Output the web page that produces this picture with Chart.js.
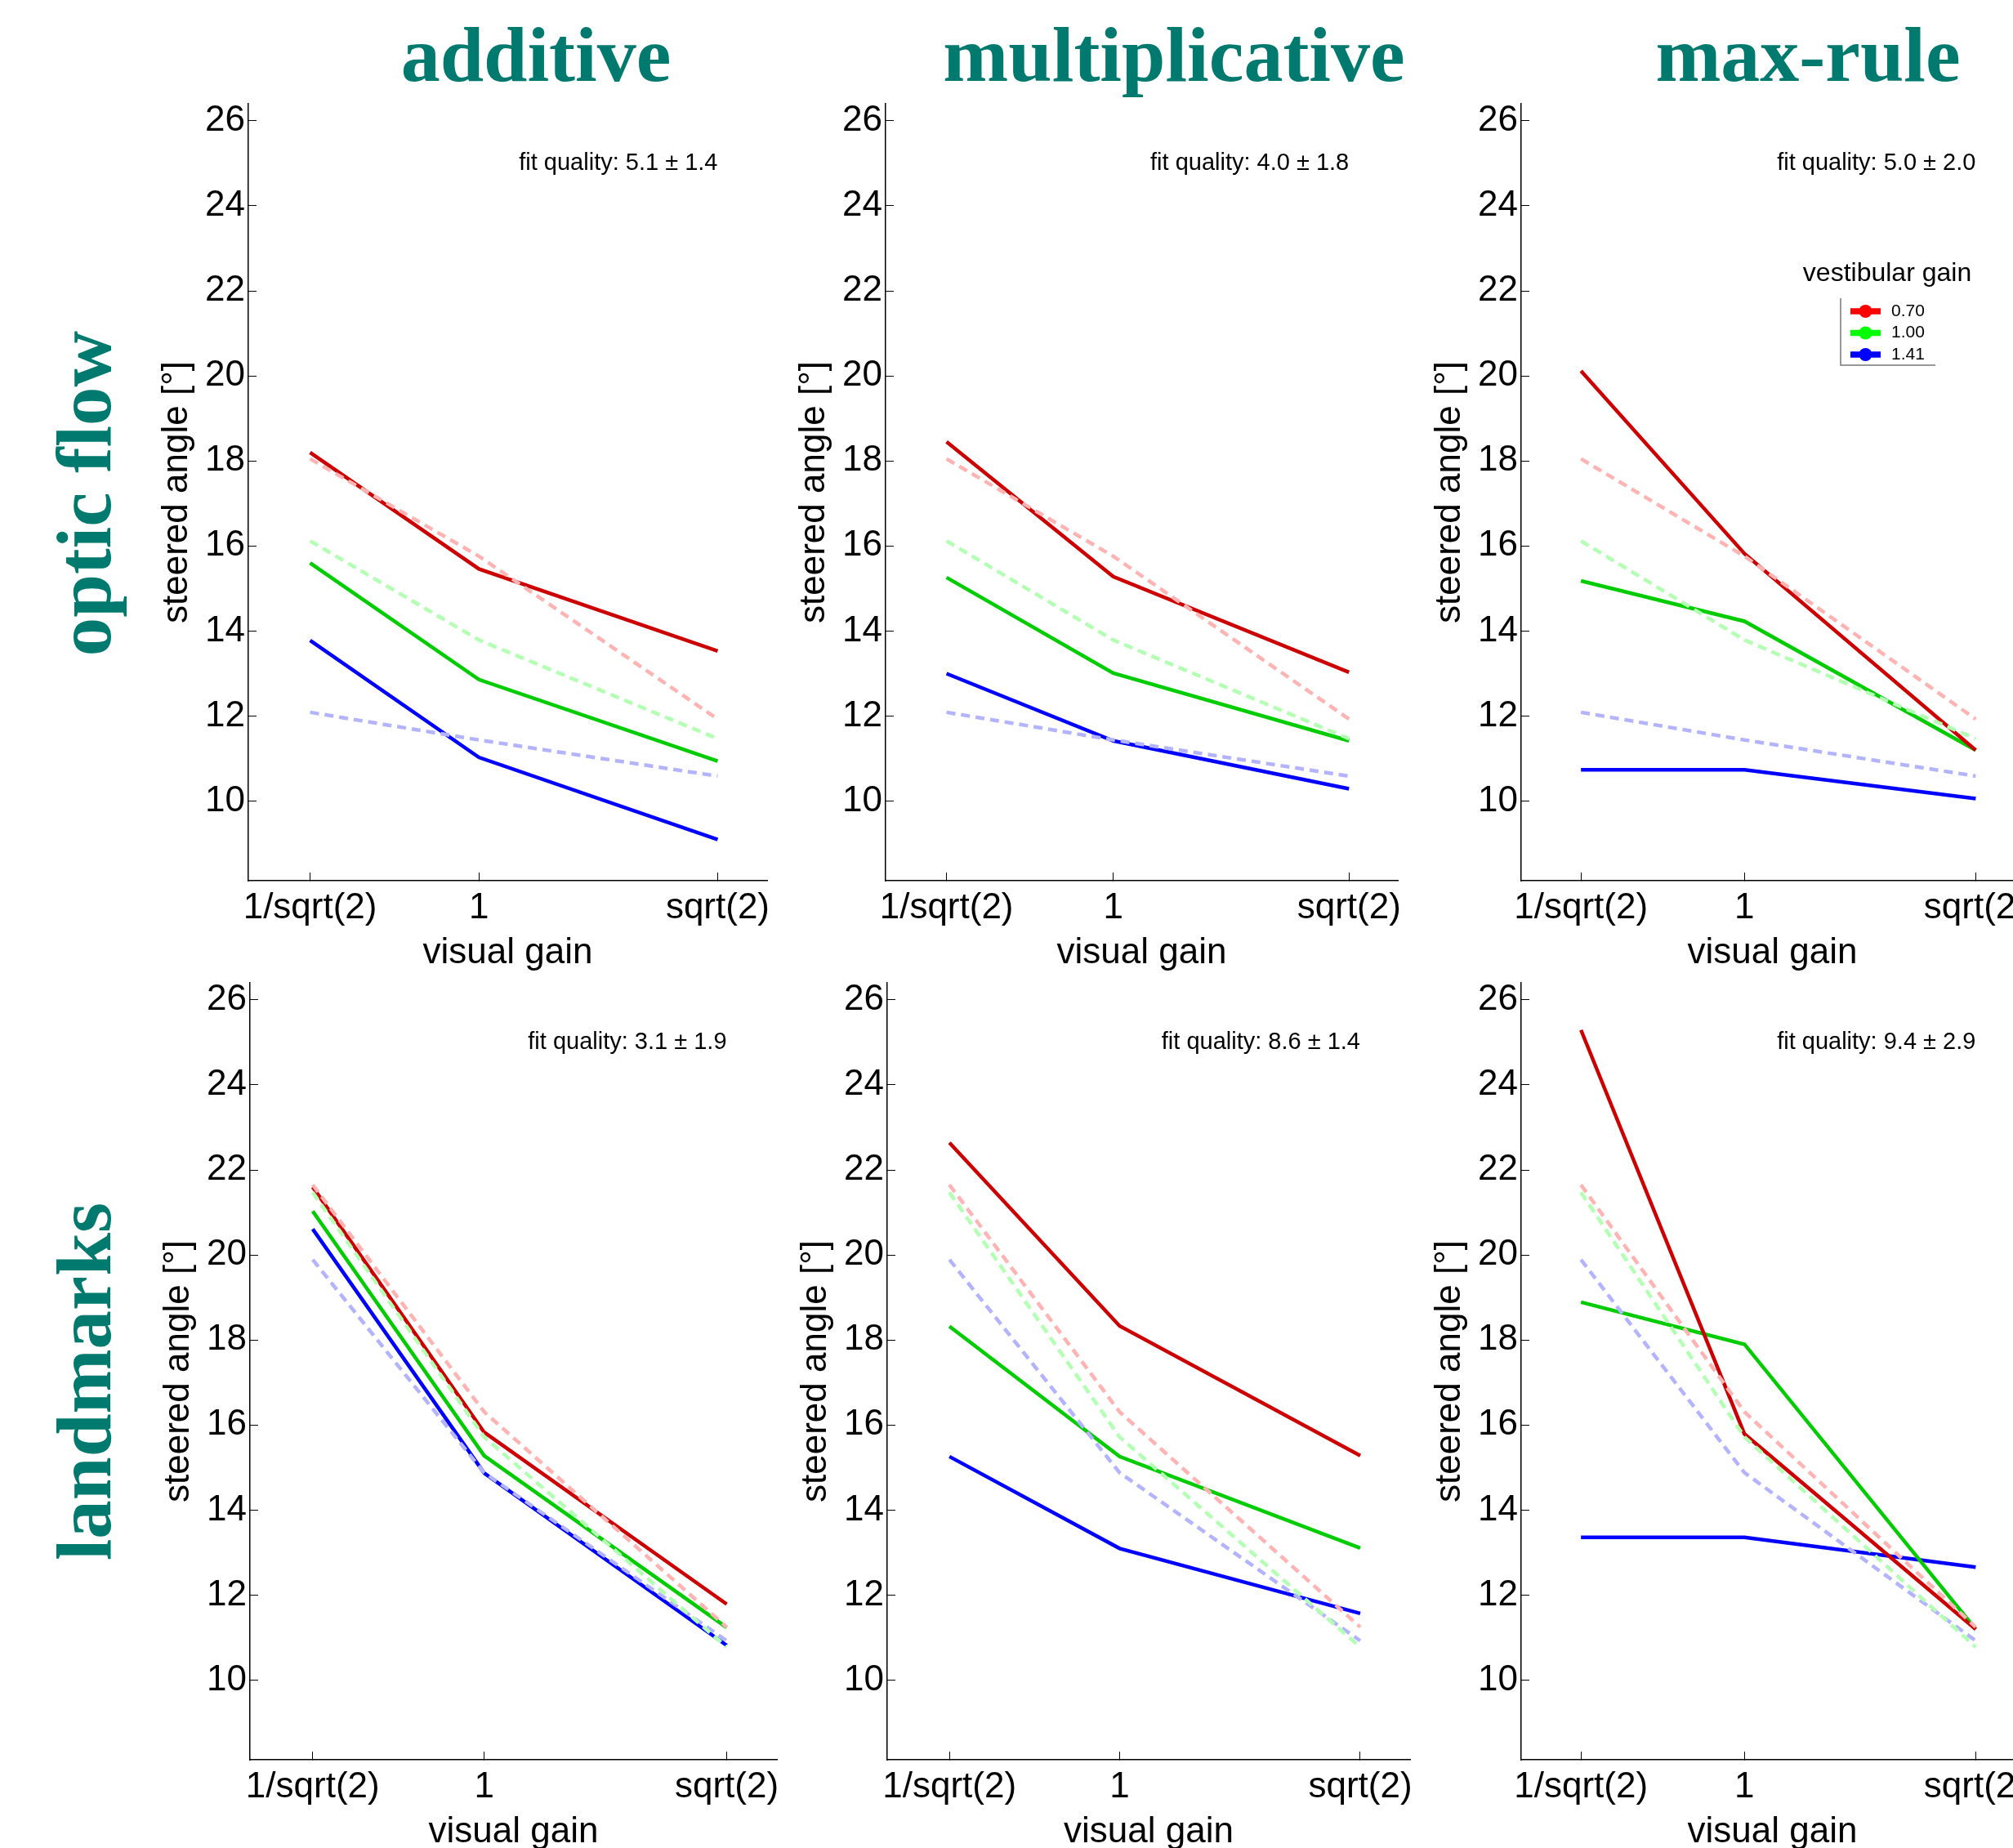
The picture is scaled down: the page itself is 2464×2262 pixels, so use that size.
<!DOCTYPE html>
<html>
<head>
<meta charset="utf-8">
<title>steered angle vs visual gain</title>
<script src="https://cdn.jsdelivr.net/npm/chart.js@4.4.1/dist/chart.umd.min.js"></script>
<style>
  html, body { margin: 0; padding: 0; background: #fff; }
  body { width: 2464px; height: 2262px; position: relative; overflow: hidden; }
  canvas { position: absolute; }
  .col-title, .row-title {
    position: absolute;
    font-family: "Liberation Serif", "Times New Roman", serif;
    font-weight: bold;
    color: #007a6e;
    white-space: nowrap;
    text-align: center;
  }
  .col-title { width: 800px; font-size: 96px; line-height: 100px; top: 17px; }
  .row-title { width: 600px; height: 100px; font-size: 95px; line-height: 100px; left: -197px; transform: rotate(-90deg); }
</style>
</head>
<body>
<div class="col-title" style="left:256px">additive</div>
<div class="col-title" style="left:1037px">multiplicative</div>
<div class="col-title" style="left:1813px">max-rule</div>
<div class="row-title" style="top:554px">optic flow</div>
<div class="row-title" style="top:1641px">landmarks</div>

<script>
const FONT = '"Liberation Sans", Arial, Helvetica, sans-serif';

// x axis: visual gain
const gains = [0.7071, 1, 1.4142];
const gainLabels = ['1/sqrt(2)', '1', 'sqrt(2)'];
const yTicks = [10, 12, 14, 16, 18, 20, 22, 24, 26];
const vestibularGains = ['0.70', '1.00', '1.41'];

// measured steered angle (dashed), rows = vestibular gain 0.70 / 1.00 / 1.41
const dataOpticFlow = [[18.05, 15.76, 11.93], [16.12, 13.79, 11.47], [12.09, 11.44, 10.59]];
const dataLandmarks = [[21.65, 16.31, 11.25], [21.47, 15.72, 10.78], [19.89, 14.88, 10.93]];

// model predictions (solid)
const fitAdditiveOptic = [[18.20, 15.46, 13.53], [15.60, 12.86, 10.94], [13.78, 11.03, 9.10]];
const fitMultOptic = [[18.45, 15.28, 13.03], [15.26, 13.01, 11.42], [13.00, 11.42, 10.29]];
const fitMaxOptic = [[20.12, 15.82, 11.20], [15.18, 14.23, 11.20], [10.74, 10.74, 10.06]];
const fitAdditiveLand = [[21.60, 15.83, 11.79], [21.03, 15.28, 11.24], [20.61, 14.87, 10.82]];
const fitMultLand = [[22.64, 18.33, 15.28], [18.32, 15.26, 13.11], [15.26, 13.10, 11.57]];
const fitMaxLand = [[25.29, 15.79, 11.20], [18.89, 17.90, 11.20], [13.36, 13.36, 12.66]];

const fitQuality = [
  'fit quality: 5.1 ± 1.4', 'fit quality: 4.0 ± 1.8', 'fit quality: 5.0 ± 2.0',
  'fit quality: 3.1 ± 1.9', 'fit quality: 8.6 ± 1.4', 'fit quality: 9.4 ± 2.9',
];

const solidColors = ['#cc0000', '#00cc00', '#0000ff'];
const dashColors = ['#ffb3b3', '#b3ffb3', '#b3b3ff'];
const legendColors = ['#ff0000', '#00ff00', '#0000ff'];

// plot areas in page pixels
const panels = [
  { data: dataOpticFlow, fit: fitAdditiveOptic, left: 304, top: 127, w: 635, h: 951 },
  { data: dataOpticFlow, fit: fitMultOptic, left: 1084, top: 127, w: 627, h: 951 },
  { data: dataOpticFlow, fit: fitMaxOptic, left: 1862, top: 127, w: 615, h: 951, legend: true },
  { data: dataLandmarks, fit: fitAdditiveLand, left: 306, top: 1203, w: 645, h: 951 },
  { data: dataLandmarks, fit: fitMultLand, left: 1086, top: 1203, w: 640, h: 951 },
  { data: dataLandmarks, fit: fitMaxLand, left: 1862, top: 1203, w: 615, h: 951 },
];

const Y_AXIS_W = 260;
const X_AXIS_H = 130;
const PAD_TOP = 60;
const PAD_RIGHT = 40;

const fitTextPlugin = {
  id: 'fitText',
  afterDatasetsDraw(chart, args, opts) {
    const { ctx, scales: { x, y } } = chart;
    ctx.save();
    ctx.font = `29px ${FONT}`;
    ctx.fillStyle = '#000';
    ctx.textAlign = 'right';
    ctx.textBaseline = 'middle';
    ctx.fillText(opts.text, x.getPixelForValue(gains[2]), y.getPixelForValue(25));
    ctx.restore();
  },
};

const legendPlugin = {
  id: 'vestibularLegend',
  afterDraw(chart, args, opts) {
    if (!opts.show) return;
    const { ctx, chartArea: { left, top } } = chart;
    ctx.save();
    ctx.fillStyle = '#000';
    ctx.font = `32px ${FONT}`;
    ctx.textAlign = 'center';
    ctx.textBaseline = 'middle';
    ctx.fillText('vestibular gain', left + 448, top + 208);

    ctx.strokeStyle = '#777';
    ctx.lineWidth = 1.5;
    ctx.beginPath();
    ctx.moveTo(left + 391, top + 238);
    ctx.lineTo(left + 391, top + 320);
    ctx.lineTo(left + 507, top + 320);
    ctx.stroke();

    vestibularGains.forEach((label, i) => {
      const yy = top + 254 + i * 26.5;
      ctx.strokeStyle = legendColors[i];
      ctx.lineWidth = 7.5;
      ctx.beginPath();
      ctx.moveTo(left + 403, yy);
      ctx.lineTo(left + 440, yy);
      ctx.stroke();
      ctx.fillStyle = legendColors[i];
      ctx.beginPath();
      ctx.arc(left + 421.5, yy, 8, 0, Math.PI * 2);
      ctx.fill();
      ctx.fillStyle = '#000';
      ctx.font = `21px ${FONT}`;
      ctx.textAlign = 'left';
      ctx.fillText(label, left + 453, yy);
    });
    ctx.restore();
  },
};

Chart.defaults.font.family = FONT;
Chart.defaults.color = '#000';

function makeDatasets(panel) {
  const measured = panel.data.map((row, i) => ({
    data: row.map((v, j) => ({ x: gains[j], y: v })),
    borderColor: dashColors[i],
    borderWidth: 4.5,
    borderDash: [11, 7],
    pointRadius: 0,
    fill: false,
  }));
  const model = panel.fit.map((row, i) => ({
    data: row.map((v, j) => ({ x: gains[j], y: v })),
    borderColor: solidColors[i],
    borderWidth: 4.5,
    pointRadius: 0,
    fill: false,
  }));
  return [...measured, ...model];
}

panels.forEach((panel, idx) => {
  const canvas = document.createElement('canvas');
  const cw = Y_AXIS_W + panel.w + PAD_RIGHT;
  const ch = PAD_TOP + panel.h + X_AXIS_H;
  canvas.width = cw;
  canvas.height = ch;
  canvas.style.left = `${panel.left - Y_AXIS_W}px`;
  canvas.style.top = `${panel.top - PAD_TOP}px`;
  canvas.style.width = `${cw}px`;
  canvas.style.height = `${ch}px`;
  document.body.appendChild(canvas);

  const tickFont = { family: FONT, size: 44 };

  new Chart(canvas, {
    type: 'line',
    data: { datasets: makeDatasets(panel) },
    options: {
      responsive: false,
      animation: false,
      devicePixelRatio: 1,
      layout: { padding: { top: PAD_TOP, right: PAD_RIGHT, left: 0, bottom: 0 } },
      plugins: {
        legend: { display: false },
        tooltip: { enabled: false },
        fitText: { text: fitQuality[idx] },
        vestibularLegend: { show: !!panel.legend },
      },
      scales: {
        x: {
          type: 'linear',
          min: 0.6,
          max: 1.5,
          afterBuildTicks: scale => { scale.ticks = gains.map(v => ({ value: v })); },
          afterFit: scale => { scale.height = X_AXIS_H; },
          ticks: {
            callback: (value, index) => gainLabels[index],
            font: tickFont,
            color: '#000',
            padding: 17,
            maxRotation: 0,
            autoSkip: false,
          },
          grid: { drawOnChartArea: false, tickLength: -10, color: '#000', lineWidth: 1 },
          border: { color: '#000', width: 1.5 },
          title: {
            display: true,
            text: 'visual gain',
            font: tickFont,
            color: '#000',
            padding: { top: 0, bottom: 15 },
          },
        },
        y: {
          type: 'linear',
          min: 8.13,
          max: 26.4,
          afterBuildTicks: scale => { scale.ticks = yTicks.map(v => ({ value: v })); },
          afterFit: scale => { scale.width = Y_AXIS_W; },
          ticks: { font: tickFont, color: '#000', padding: 14, autoSkip: false },
          grid: { drawOnChartArea: false, tickLength: -10, color: '#000', lineWidth: 1 },
          border: { color: '#000', width: 1.5 },
          title: {
            display: true,
            text: 'steered angle [°]',
            font: tickFont,
            color: '#000',
            padding: { top: 146.6, bottom: 0 },
          },
        },
      },
    },
    plugins: [fitTextPlugin, legendPlugin],
  });
});
</script>
</body>
</html>
